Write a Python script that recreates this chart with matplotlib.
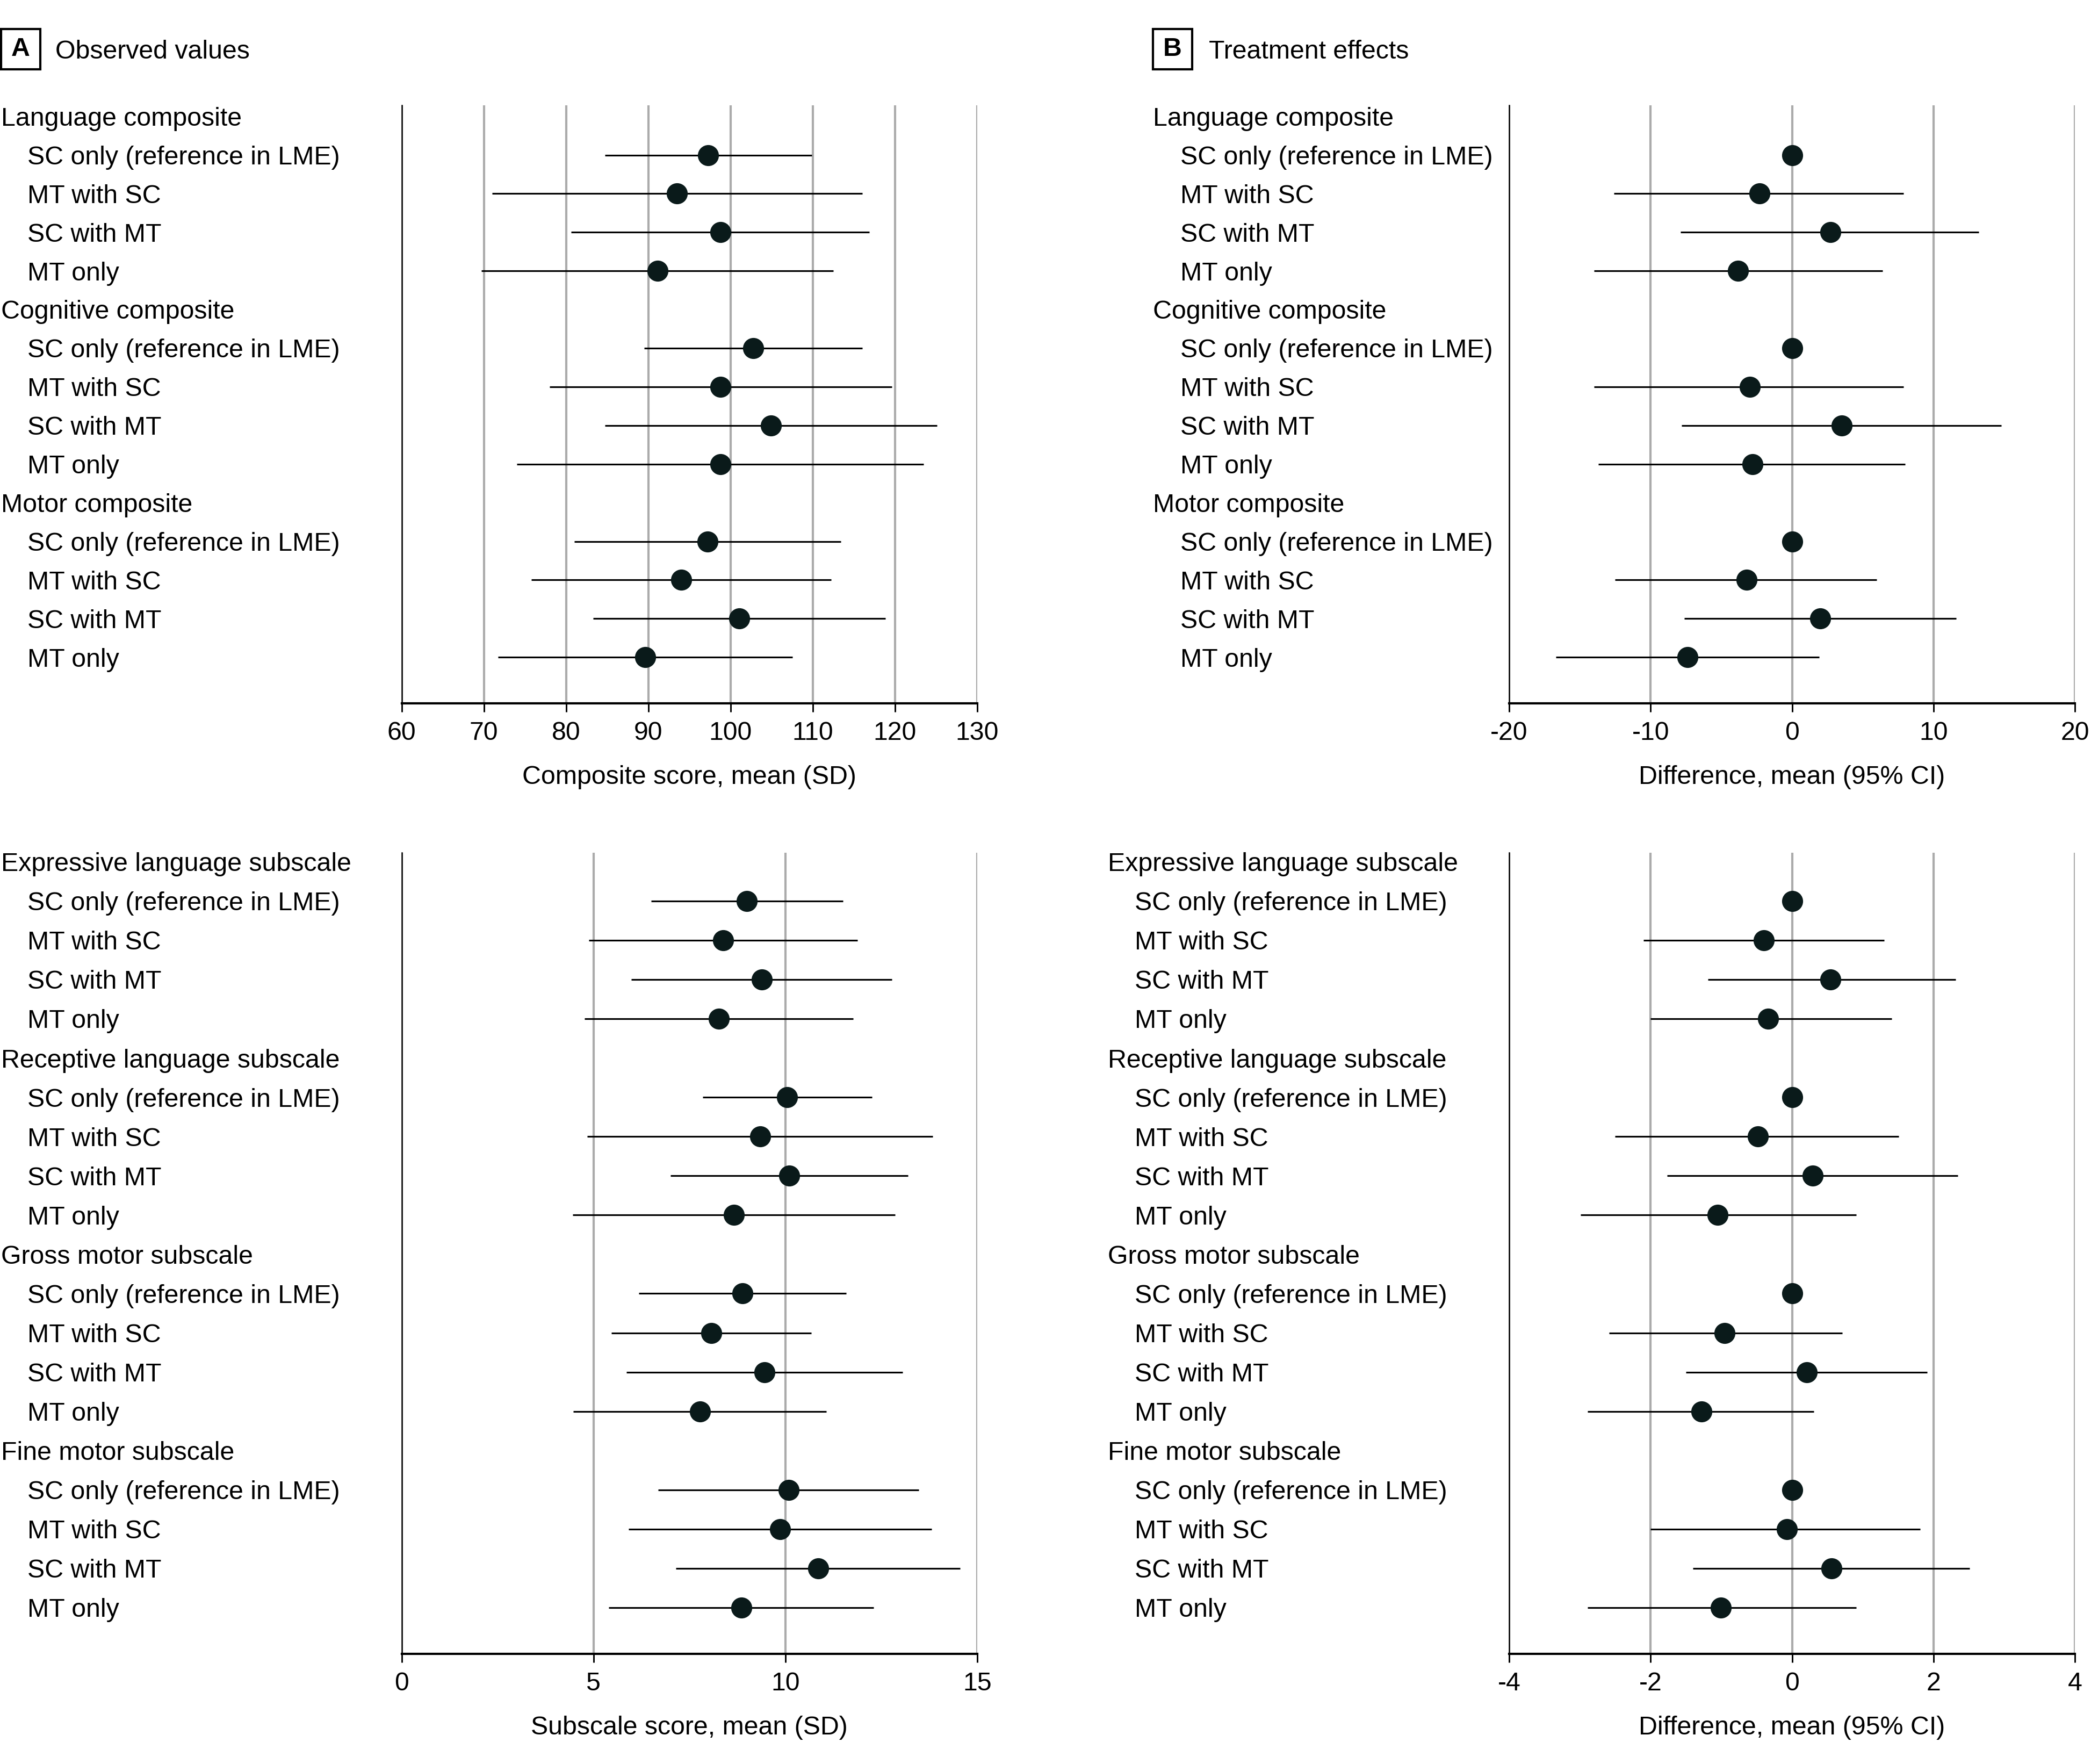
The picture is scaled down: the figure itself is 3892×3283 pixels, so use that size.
import numpy as np
import matplotlib
matplotlib.use("Agg")
import matplotlib.pyplot as plt
from matplotlib.transforms import blended_transform_factory, offset_copy
from matplotlib.patches import Rectangle

plt.rcParams['font.family'] = ['Liberation Sans', 'DejaVu Sans']
plt.rcParams['axes.unicode_minus'] = False

# ---------------- data ----------------
groups = ["SC only (reference in LME)", "MT with SC", "SC with MT", "MT only"]
composite_names = ["Language composite", "Cognitive composite", "Motor composite"]
subscale_names = ["Expressive language subscale", "Receptive language subscale",
                  "Gross motor subscale", "Fine motor subscale"]

# Panel A (top): composite scores, mean and SD
comp_mean = [97.3, 93.5, 98.75, 91.1, 102.75, 98.8, 104.9, 98.75, 97.2, 94.0, 101.05, 89.6]
comp_sd = [12.6, 22.5, 18.15, 21.4, 13.25, 20.8, 20.2, 24.75, 16.2, 18.2, 17.75, 17.9]

# Panel A (bottom): subscale scores, mean and SD
sub_mean = [9.0, 8.38, 9.38, 8.26, 10.05, 9.34, 10.1, 8.66, 8.88, 8.07, 9.46, 7.77,
            10.08, 9.86, 10.85, 8.85]
sub_sd = [2.5, 3.5, 3.4, 3.5, 2.2, 4.5, 3.1, 4.2, 2.7, 2.6, 3.6, 3.3, 3.4, 3.95, 3.7, 3.45]

nan = np.nan
# Panel B (top): composite differences, mean (95% CI)
comp_diff = [0.0, -2.3, 2.7, -3.8, 0.0, -3.0, 3.5, -2.8, 0.0, -3.2, 2.0, -7.4]
comp_lo = [nan, -12.6, -7.9, -14.0, nan, -14.0, -7.8, -13.7, nan, -12.5, -7.6, -16.7]
comp_hi = [nan, 7.9, 13.2, 6.4, nan, 7.9, 14.8, 8.0, nan, 6.0, 11.6, 1.9]

# Panel B (bottom): subscale differences, mean (95% CI)
sub_diff = [0.0, -0.40, 0.54, -0.34, 0.0, -0.48, 0.29, -1.05, 0.0, -0.95, 0.21, -1.28,
            0.0, -0.07, 0.56, -1.01]
sub_lo = [nan, -2.10, -1.19, -2.00, nan, -2.50, -1.77, -2.99, nan, -2.59, -1.50, -2.89,
          nan, -2.00, -1.40, -2.89]
sub_hi = [nan, 1.30, 2.31, 1.41, nan, 1.51, 2.34, 0.91, nan, 0.71, 1.91, 0.31,
          nan, 1.81, 2.51, 0.91]

# ---------------- styling ----------------
W, H = 3892, 3283
DPI = 300
FS = 11.6
DOT = '#0a1a1a'
GRID = '#ababab'

fig = plt.figure(figsize=(W / DPI, H / DPI), dpi=DPI)


def fx(px):
    return px / W


def fy(px):
    return 1 - px / H


def make_axes(left_px, right_px, top_px, bottom_px):
    return fig.add_axes([fx(left_px), fy(bottom_px), fx(right_px - left_px),
                         (bottom_px - top_px) / H])


def style_axes(ax, xlim, ticks, xlabel, ylim):
    ax.set_xlim(*xlim)
    ax.set_ylim(*ylim)
    ax.set_xticks(ticks)
    ax.set_xticklabels([str(t) for t in ticks])
    ax.set_yticks([])
    for s in ['top', 'right']:
        ax.spines[s].set_visible(False)
    ax.spines['left'].set_linewidth(0.6)
    ax.spines['bottom'].set_linewidth(1.0)
    ax.tick_params(axis='x', direction='out', length=3.8, width=0.7,
                   labelsize=FS, pad=4)
    ax.grid(axis='x', color=GRID, lw=1.0)
    ax.set_axisbelow(True)
    ax.set_xlabel(xlabel, fontsize=FS, labelpad=9)


def row_positions(n_groups):
    pos = []
    for k in range(n_groups):
        for j in range(len(groups)):
            pos.append(k * 5 + 1 + j)
    return np.array(pos, dtype=float)


def add_labels(ax, names, hx_px, ix_px):
    base = blended_transform_factory(fig.transFigure, ax.transData)
    trans = offset_copy(base, fig=fig, y=-0.358 * FS, units='points')
    for k, name in enumerate(names):
        ax.text(fx(hx_px), k * 5, name, transform=trans, ha='left', va='baseline',
                fontsize=FS, clip_on=False)
        for j, g in enumerate(groups):
            ax.text(fx(ix_px), k * 5 + 1 + j, g, transform=trans, ha='left',
                    va='baseline', fontsize=FS, clip_on=False)


def draw_sd(ax, mean, sd, ypos):
    mean = np.asarray(mean)
    sd = np.asarray(sd)
    ax.hlines(ypos, mean - sd, mean + sd, color='black', lw=0.75, zorder=3)
    ax.plot(mean, ypos, 'o', ms=8.4, color=DOT, mec=DOT, zorder=4, clip_on=False)


def draw_ci(ax, mean, lo, hi, ypos):
    lo = np.asarray(lo)
    hi = np.asarray(hi)
    m = ~np.isnan(lo)
    ax.hlines(ypos[m], lo[m], hi[m], color='black', lw=0.75, zorder=3)
    ax.plot(mean, ypos, 'o', ms=8.4, color=DOT, mec=DOT, zorder=4, clip_on=False)


top_ylim = (15.2, -0.287)
bot_ylim = (20.18, -0.233)

pos_top = row_positions(len(composite_names))
pos_bot = row_positions(len(subscale_names))

# Panel A top
ax1 = make_axes(747.7, 1818.9, 196, 1309.5)
draw_sd(ax1, comp_mean, comp_sd, pos_top)
style_axes(ax1, (60, 130), [60, 70, 80, 90, 100, 110, 120, 130],
           'Composite score, mean (SD)', top_ylim)
add_labels(ax1, composite_names, 2, 51)

# Panel B top
ax2 = make_axes(2809, 3862, 196, 1309.5)
draw_ci(ax2, comp_diff, comp_lo, comp_hi, pos_top)
style_axes(ax2, (-20, 20), [-20, -10, 0, 10, 20],
           'Difference, mean (95% CI)', top_ylim)
add_labels(ax2, composite_names, 2146, 2197)

# Panel A bottom
ax3 = make_axes(747.7, 1818.9, 1587, 3078)
draw_sd(ax3, sub_mean, sub_sd, pos_bot)
style_axes(ax3, (0, 15), [0, 5, 10, 15], 'Subscale score, mean (SD)', bot_ylim)
add_labels(ax3, subscale_names, 2, 51)

# Panel B bottom
ax4 = make_axes(2809, 3862, 1587, 3078)
draw_ci(ax4, sub_diff, sub_lo, sub_hi, pos_bot)
style_axes(ax4, (-4, 4), [-4, -2, 0, 2, 4], 'Difference, mean (95% CI)', bot_ylim)
add_labels(ax4, subscale_names, 2062, 2112)


def panel_header(letter, title, box_left_px, title_px):
    box = Rectangle((fx(box_left_px), fy(129)), fx(73), 75 / H,
                    transform=fig.transFigure, fill=False, lw=1.0, ec='black')
    fig.add_artist(box)
    fig.text(fx(box_left_px + 36.5), fy(92), letter, ha='center', va='center',
             fontsize=FS, fontweight='bold')
    fig.text(fx(title_px), fy(92 + 17), title, ha='left', va='baseline', fontsize=FS)


panel_header('A', 'Observed values', 2, 103)
panel_header('B', 'Treatment effects', 2146, 2250)

fig.savefig('out.png', dpi=DPI)
